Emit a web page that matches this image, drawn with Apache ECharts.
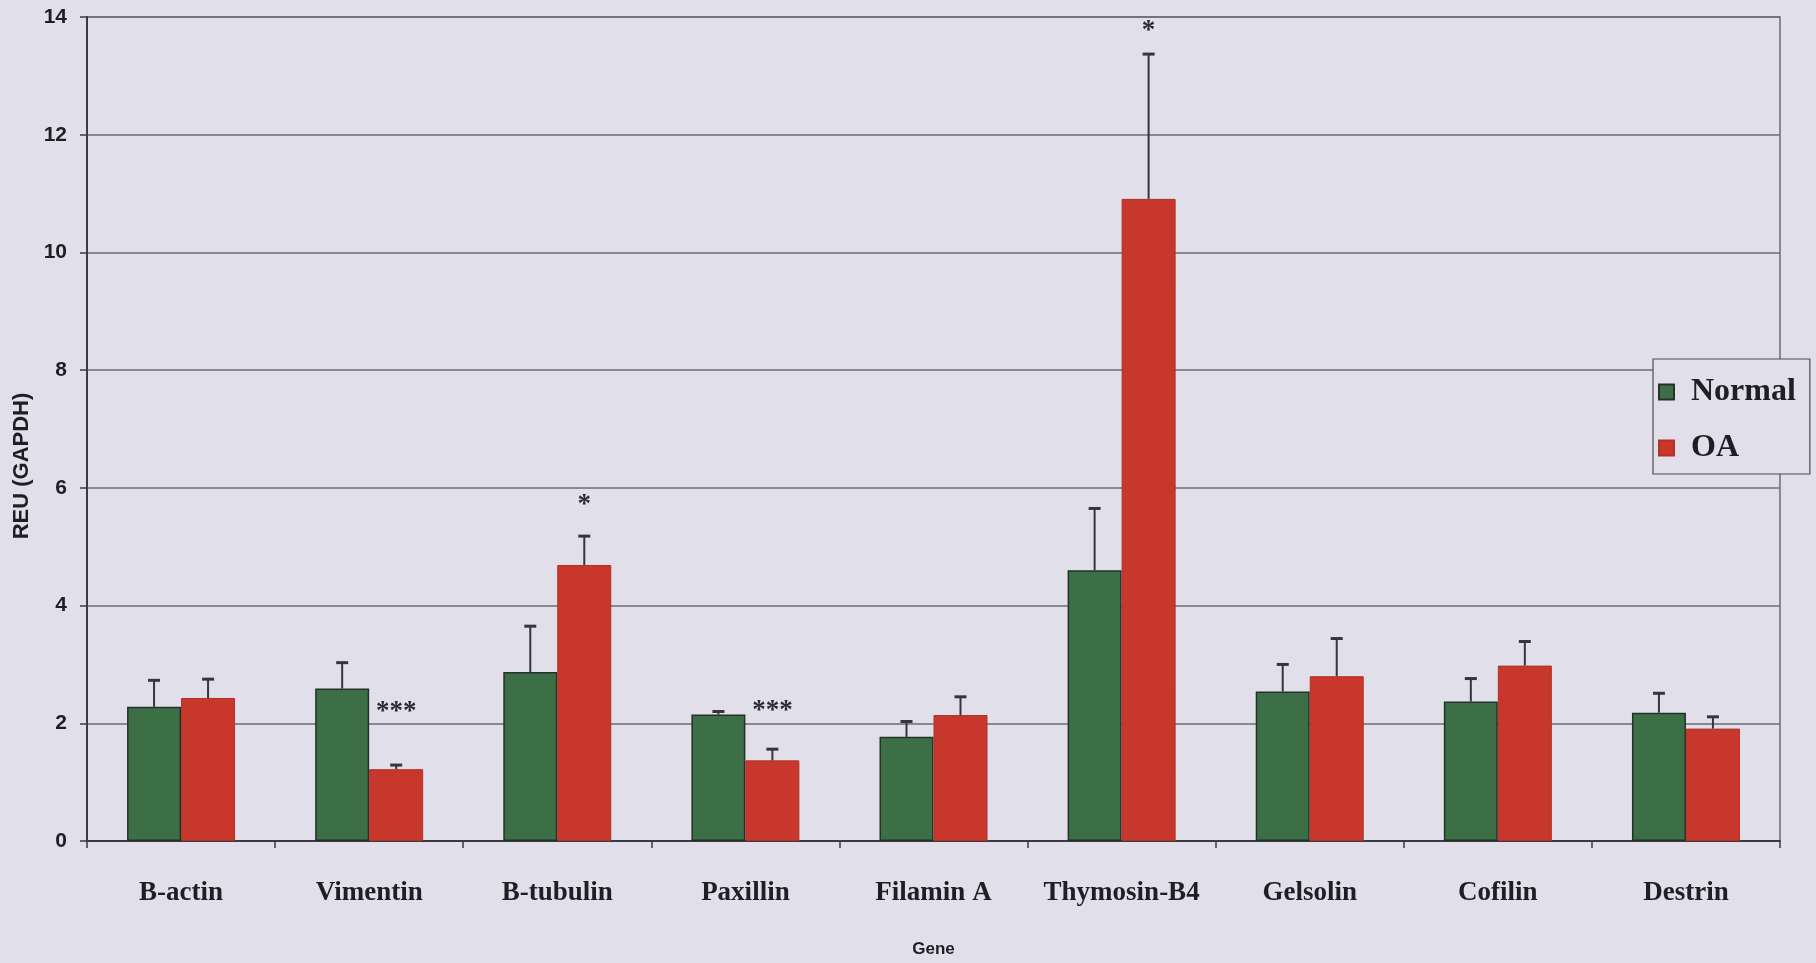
<!DOCTYPE html>
<html>
<head>
<meta charset="utf-8">
<title>REU (GAPDH) by gene</title>
<script src="https://cdn.jsdelivr.net/npm/echarts@6/dist/echarts.min.js"></script>
<style>
  html, body { margin: 0; padding: 0; background: #e1e0ea; }
  #chart { width: 1816px; height: 963px; }
</style>
</head>
<body>
<div id="chart"></div>
<script>
// Gene expression relative to GAPDH, normal vs OA
const genes = ['B-actin', 'Vimentin', 'B-tubulin', 'Paxillin', 'Filamin A', 'Thymosin-B4', 'Gelsolin', 'Cofilin', 'Destrin'];
const normalMean = [2.28, 2.59, 2.87, 2.15, 1.77, 4.60, 2.54, 2.37, 2.18];
const normalErr  = [0.45, 0.44, 0.78, 0.05, 0.26, 1.05, 0.46, 0.39, 0.33];
const oaMean     = [2.43, 1.22, 4.69, 1.37, 2.14, 10.91, 2.80, 2.98, 1.91];
const oaErr      = [0.32, 0.07, 0.49, 0.19, 0.31, 2.46, 0.64, 0.41, 0.20];
// significance markers drawn over the OA bars: [gene index, height, text]
const sigMarks = [
  [1, 2.28, '***'],
  [2, 5.80, '*'],
  [3, 2.30, '***'],
  [5, 13.85, '*']
];
const yTicks = { min: 0, max: 14, interval: 2 };

const BG = '#e1e0ea';
const GREEN = '#3d6f47';
const RED = '#c7372b';
const INK = '#1e1e24';
const GRID = '#6b6b73';
const BAR_W = 54;

const chart = echarts.init(document.getElementById('chart'), null, { renderer: 'canvas' });

// Upward error bar with a cap, shifted onto its own bar of the pair
function errorBar(side) {
  return function (params, api) {
    const idx = api.value(0);
    const mean = api.value(1);
    const err = api.value(2);
    const base = api.coord([idx, mean]);
    const top = api.coord([idx, mean + err]);
    const x = base[0] + side * BAR_W / 2;
    const capHalf = 6;
    return {
      type: 'group',
      children: [
        { type: 'line', shape: { x1: x, y1: base[1], x2: x, y2: top[1] },
          style: { stroke: '#35353b', lineWidth: 2 } },
        { type: 'line', shape: { x1: x - capHalf, y1: top[1], x2: x + capHalf, y2: top[1] },
          style: { stroke: '#35353b', lineWidth: 3 } }
      ]
    };
  };
}

// Asterisks above the OA bar; the glyph sits high in its line box, hence the small drop
function sigLabels(params, api) {
  const idx = api.value(0);
  const p = api.coord([idx, api.value(1)]);
  const mark = sigMarks[params.dataIndex][2];
  return {
    type: 'text',
    x: p[0] + BAR_W / 2,
    y: p[1] + 5,
    style: {
      text: mark,
      fill: '#2a2a30',
      font: 'bold 27px "Liberation Serif", "Times New Roman", serif',
      align: 'center',
      verticalAlign: 'middle'
    }
  };
}

const option = {
  backgroundColor: BG,
  animation: false,
  grid: {
    left: 87, right: 36, top: 17, bottom: 122,
    show: true, borderColor: GRID, borderWidth: 1.5, backgroundColor: 'transparent'
  },
  legend: {
    orient: 'vertical',
    left: 1653, top: 359,
    padding: [17, 14, 10, 5],
    backgroundColor: BG,
    borderColor: '#4a4a50',
    borderWidth: 1.2,
    itemGap: 24,
    itemWidth: 15, itemHeight: 15,
    icon: 'rect',
    textStyle: { fontFamily: '"Liberation Serif", "Times New Roman", serif', fontWeight: 'bold', fontSize: 32, color: INK, padding: [0, 0, 0, 12] },
    data: ['Normal', 'OA']
  },
  xAxis: {
    type: 'category',
    data: genes,
    name: 'Gene',
    nameLocation: 'middle',
    nameGap: 100,
    nameTextStyle: { fontFamily: '"Liberation Sans", Arial, sans-serif', fontWeight: 'bold', fontSize: 17, color: INK },
    axisLine: { lineStyle: { color: '#3a3a40', width: 2 } },
    axisTick: { show: true, interval: 0, length: 7, lineStyle: { color: '#3a3a40', width: 1.5 } },
    axisLabel: { interval: 0, margin: 39, fontFamily: '"Liberation Serif", "Times New Roman", serif', fontWeight: 'bold', fontSize: 27, color: INK },
    splitLine: { show: false }
  },
  yAxis: {
    type: 'value',
    min: yTicks.min, max: yTicks.max, interval: yTicks.interval,
    name: 'REU (GAPDH)',
    nameLocation: 'middle',
    nameGap: 53,
    nameRotate: 90,
    nameTextStyle: { fontFamily: '"Liberation Sans", Arial, sans-serif', fontWeight: 'bold', fontSize: 22, color: INK, padding: [0, 74, 0, 0] },
    axisLine: { show: true, lineStyle: { color: '#3a3a40', width: 2 } },
    axisTick: { show: true, length: 7, lineStyle: { color: '#3a3a40', width: 1.5 } },
    axisLabel: { margin: 20, fontFamily: '"Liberation Sans", Arial, sans-serif', fontWeight: 'bold', fontSize: 21, color: INK },
    splitLine: { show: true, lineStyle: { color: GRID, width: 1.5 } }
  },
  series: [
    {
      name: 'Normal', type: 'bar', data: normalMean,
      barWidth: BAR_W, barGap: '0%',
      itemStyle: { color: GREEN, borderColor: '#26302a', borderWidth: 1.5 }
    },
    {
      name: 'OA', type: 'bar', data: oaMean,
      barWidth: BAR_W, barGap: '0%',
      itemStyle: { color: RED, borderColor: '#b23126', borderWidth: 1 }
    },
    {
      type: 'custom', name: 'Normal error', renderItem: errorBar(-1), z: 5,
      data: normalMean.map((m, i) => [i, m, normalErr[i]])
    },
    {
      type: 'custom', name: 'OA error', renderItem: errorBar(1), z: 5,
      data: oaMean.map((m, i) => [i, m, oaErr[i]])
    },
    {
      type: 'custom', name: 'significance', renderItem: sigLabels, z: 6,
      data: sigMarks.map(s => [s[0], s[1]])
    }
  ]
};

chart.setOption(option);
</script>
</body>
</html>
